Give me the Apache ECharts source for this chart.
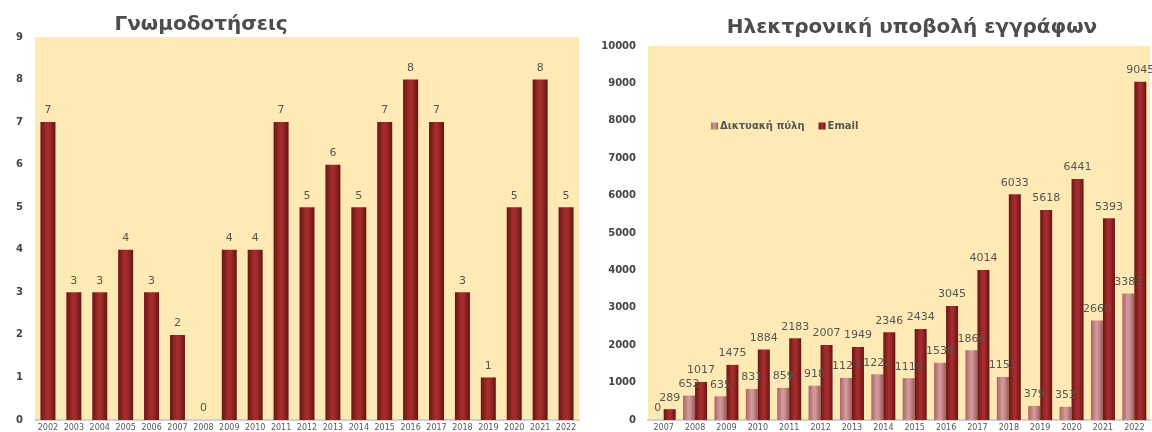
<!DOCTYPE html>
<html><head><meta charset="utf-8">
<script src="https://cdn.jsdelivr.net/npm/echarts@6/dist/echarts.min.js"></script>
<style>html,body{margin:0;padding:0;background:#fff}#c{width:1152px;height:432px}</style>
</head><body><div id="c"></div>
<script>
const leftTitle = 'Γνωμοδοτήσεις';
const rightTitle = 'Ηλεκτρονική υποβολή εγγράφων';
const leftYears = ['2002','2003','2004','2005','2006','2007','2008','2009','2010','2011','2012','2013','2014','2015','2016','2017','2018','2019','2020','2021','2022'];
const opinions = [7,3,3,4,3,2,0,4,4,7,5,6,5,7,8,7,3,1,5,8,5];
const rightYears = ['2007','2008','2009','2010','2011','2012','2013','2014','2015','2016','2017','2018','2019','2020','2021','2022'];
const portalName = 'Δικτυακή πύλη';
const emailName = 'Email';
const portal = [0,652,635,831,859,918,1127,1222,1119,1530,1866,1151,379,353,2660,3383];
const email = [289,1017,1475,1884,2183,2007,1949,2346,2434,3045,4014,6033,5618,6441,5393,9045];

const FONT = 'DejaVu Sans';
const darkRed = new echarts.graphic.LinearGradient(0,0,1,0,[
  {offset:0,color:'#6a1515'},{offset:0.45,color:'#a52e2c'},{offset:0.6,color:'#a02b29'},{offset:1,color:'#651414'}]);
const pink = new echarts.graphic.LinearGradient(0,0,1,0,[
  {offset:0,color:'#a86466'},{offset:0.45,color:'#d49a9b'},{offset:0.6,color:'#cf9394'},{offset:1,color:'#9c5a5c'}]);
const bg = '#ffeab5';
const lbl = {show:true,position:'top',distance:6,color:'#555',fontFamily:FONT,fontSize:11};
const yLab = {color:'#444',fontFamily:FONT,fontSize:10,fontWeight:'bold',margin:12,formatter:function(v){return String(v);}};
const xLab = {color:'#555',fontFamily:FONT,fontSize:8,margin:4,interval:0};

const chart = echarts.init(document.getElementById('c'),null,{renderer:'canvas'});
chart.setOption({
  animation:false,
  backgroundColor:'#fff',
  title:[
    {text:leftTitle,left:196,top:10,textAlign:'center',textStyle:{fontFamily:FONT,fontSize:20,fontWeight:'bold',color:'#4d4d4d'}},
    {text:rightTitle,left:907,top:13,textAlign:'center',textStyle:{fontFamily:FONT,fontSize:20,fontWeight:'bold',color:'#4d4d4d'}}
  ],
  legend:{data:[portalName,emailName],left:706,top:116,itemWidth:7,itemHeight:7,itemGap:14,icon:'rect',
    textStyle:{fontFamily:FONT,fontSize:10,fontWeight:'bold',color:'#555',padding:[0,0,0,-3]}},
  grid:[
    {left:35,right:573,top:37,bottom:12,show:true,backgroundColor:bg,borderWidth:0},
    {left:648,right:2,top:46,bottom:12,show:true,backgroundColor:bg,borderWidth:0}
  ],
  xAxis:[
    {type:'category',gridIndex:0,data:leftYears,axisTick:{show:false},axisLine:{lineStyle:{color:'#d0d0d0',width:2}},axisLabel:xLab},
    {type:'category',gridIndex:1,data:rightYears,axisTick:{show:false},axisLine:{lineStyle:{color:'#d0d0d0',width:2}},axisLabel:xLab}
  ],
  yAxis:[
    {type:'value',gridIndex:0,min:0,max:9,interval:1,splitLine:{show:false},axisLine:{show:false},axisTick:{show:false},axisLabel:yLab},
    {type:'value',gridIndex:1,min:0,max:10000,interval:1000,splitLine:{show:false},axisLine:{show:false},axisTick:{show:false},axisLabel:yLab}
  ],
  series:[
    {type:'bar',xAxisIndex:0,yAxisIndex:0,data:opinions,barWidth:15,itemStyle:{color:darkRed},label:lbl},
    {name:portalName,type:'bar',xAxisIndex:1,yAxisIndex:1,data:portal,barWidth:12,barGap:'0%',itemStyle:{color:pink},label:lbl},
    {name:emailName,type:'bar',xAxisIndex:1,yAxisIndex:1,data:email,barWidth:12,barGap:'0%',itemStyle:{color:darkRed},label:lbl}
  ]
});
</script></body></html>
